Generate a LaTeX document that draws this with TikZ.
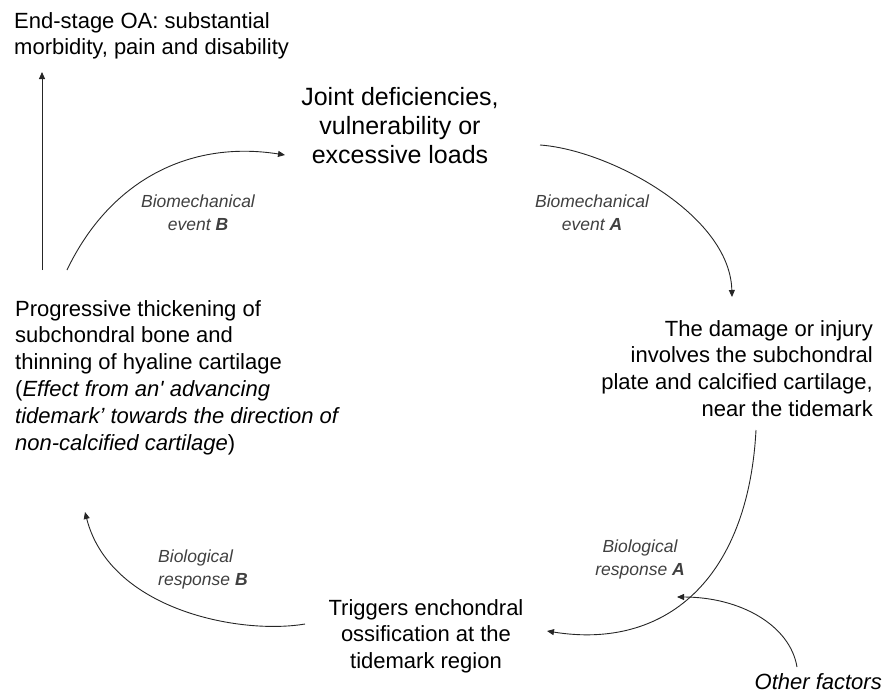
\documentclass[tikz,border=0pt]{standalone}
\usepackage{fontspec}
\setmainfont{Liberation Sans}
\usetikzlibrary{arrows.meta}
\tikzset{
  main/.style={inner sep=0pt, font=\fontsize{22}{26.8}\selectfont},
  big/.style={inner sep=0pt, font=\fontsize{25}{29}\selectfont, align=center},
  lbl/.style={inner sep=0pt, text=black!75, font=\fontsize{17.5}{23}\selectfont\itshape},
  conn/.style={draw=black!85, line width=0.9pt, -{Triangle[length=7pt,width=6pt]}}
}
\begin{document}
\begin{tikzpicture}[x=1pt,y=-1pt]
\useasboundingbox (0,0) rectangle (883,694);
% text nodes
\node[main, anchor=north west, align=left] (endst) at (14,12)
  {End-stage OA: substantial\\morbidity, pain and disability};
\node[big, anchor=north] (joint) at (400,87)
  {Joint deficiencies,\\vulnerability or\\excessive loads};
\node[main, anchor=north east, align=right] (damage) at (873,320)
  {The damage or injury\\involves the subchondral\\plate and calcified cartilage,\\near the tidemark};
\node[main, anchor=north, align=center] (trig) at (426,599)
  {Triggers enchondral\\ossification at the\\tidemark region};
\node[main, anchor=north west, align=left] (prog) at (15,300)
  {Progressive thickening of\\subchondral bone and\\thinning of hyaline cartilage\\(\textit{Effect from an\textquotesingle{} advancing}\\\textit{tidemark’ towards the direction of}\\\textit{non-calcified cartilage})};
\node[main, anchor=base east, font=\fontsize{22}{26}\selectfont\itshape] (other) at (882,689) {Other factors};
% labels
\node[lbl, anchor=north, align=center] (lbB) at (198,195) {Biomechanical\\event \textbf{B}};
\node[lbl, anchor=north, align=center] (lbA) at (592,195) {Biomechanical\\event \textbf{A}};
\node[lbl, anchor=north, align=center] (lrA) at (640,540) {Biological\\response \textbf{A}};
\node[lbl, anchor=north west, align=left] (lrB) at (158,550) {Biological\\response \textbf{B}};
% connector end points
\coordinate (vS) at (42,270);
\coordinate (vE) at (42,72);
\coordinate (bS) at (67,270);
\coordinate (bE) at (285,155);
\coordinate (aS) at (540,145);
\coordinate (aE) at (732,297);
\coordinate (cS) at (756,430);
\coordinate (cE) at (547,631);
\coordinate (oS) at (797,667);
\coordinate (oE) at (677,597);
\coordinate (dS) at (305,624);
\coordinate (dE) at (85,512);
% connectors
\draw[conn] (vS) -- (vE);
\draw[conn] (bS) .. controls (110,180) and (190,140) .. (bE);
\draw[conn] (aS) .. controls (610,150) and (730,215) .. (aE);
\draw[conn] (cS) .. controls (748,580) and (665,650) .. (cE);
\draw[conn] (oS) .. controls (790,625) and (740,597) .. (oE);
\draw[conn] (dS) .. controls (240,635) and (110,610) .. (dE);
\end{tikzpicture}
\end{document}
